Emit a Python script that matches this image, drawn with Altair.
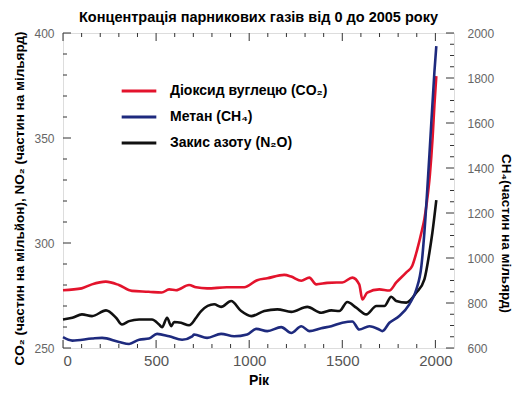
import altair as alt
import pandas as pd

# ---------------- data ----------------
CO2 = "Діоксид вуглецю (CO₂)"
CH4 = "Метан (CH₄)"
N2O = "Закис азоту (N₂O)"

co2_years = [0, 100, 155, 230, 300, 370, 460, 530, 570, 607, 677, 715, 774, 880, 973,
             1043, 1097, 1188, 1226, 1280, 1323, 1360, 1419, 1470, 1500, 1554, 1591,
             1608, 1634, 1699, 1753, 1790, 1844, 1876, 1903, 1925, 1941, 1955, 1970,
             1985, 1995, 2005]
co2_vals = [277.5, 278.4, 280.3, 281.6, 280.0, 277.2, 276.8, 276.4, 277.9, 277.5, 280.0,
            278.9, 278.4, 278.9, 278.9, 282.3, 283.2, 284.8, 284.0, 282.0, 283.5, 280.3,
            281.0, 281.2, 281.2, 283.5, 280.3, 273.1, 276.4, 277.9, 277.4, 281.2, 286.0,
            289.2, 297.1, 305.0, 311.5, 320.0, 332.0, 350.0, 366.0, 379.5]

ch4_years = [0, 50, 156, 210, 301, 355, 409, 462, 505, 570, 640, 694, 704, 774, 849, 919,
             989, 1038, 1097, 1172, 1226, 1280, 1323, 1387, 1441, 1500, 1554, 1591, 1645,
             1699, 1715, 1753, 1806, 1860, 1898, 1925, 1941, 1968, 1995, 2005]
ch4_vals = [648, 633, 642, 645, 627, 618, 637, 642, 663, 652, 637, 652, 660, 645, 663, 652,
            660, 685, 675, 693, 667, 697, 675, 688, 697, 712, 718, 682, 697, 682, 675, 712,
            742, 794, 861, 965, 1114, 1459, 1830, 1942]

n2o_years = [0, 50, 102, 156, 231, 285, 317, 355, 409, 478, 516, 532, 559, 581, 597, 634,
             677, 715, 742, 812, 849, 903, 957, 1011, 1081, 1151, 1226, 1312, 1387, 1441,
             1484, 1527, 1575, 1629, 1683, 1726, 1763, 1790, 1844, 1898, 1941, 1968, 1984,
             2005]
n2o_vals = [263.6, 264.4, 266.0, 265.2, 267.9, 264.4, 261.2, 262.8, 263.6, 263.6, 261.2,
            259.9, 264.4, 260.4, 262.4, 262.0, 260.8, 264.4, 267.6, 270.8, 269.6, 272.4,
            267.6, 265.2, 267.6, 268.4, 267.2, 269.6, 266.8, 267.9, 267.6, 271.9, 269.2,
            266.0, 270.0, 270.0, 274.4, 272.4, 271.6, 276.4, 282.7, 295.5, 305.0, 320.4]

series_order = [CO2, CH4, N2O]
series_colors = ["#e3132c", "#1e2a7e", "#111111"]

x_major = [0, 500, 1000, 1500, 2000]
x_minor = [100, 200, 300, 400, 600, 700, 800, 900, 1100, 1200, 1300, 1400,
           1600, 1700, 1800, 1900]
left_major = [250, 300, 350, 400]
left_minor = [260, 270, 280, 290, 310, 320, 330, 340, 360, 370, 380, 390]
right_major = [600, 800, 1000, 1200, 1400, 1600, 1800, 2000]
right_minor = [650, 700, 750, 850, 900, 950, 1050, 1100, 1150, 1250, 1300, 1350,
               1450, 1500, 1550, 1650, 1700, 1750, 1850, 1900, 1950]

X_DOM = [0, 2100]
L_DOM = [250, 400]
R_DOM = [600, 2000]
W, H = 391, 315
FONT = "Liberation Sans"
MAJ, MIN = 8, 4  # tick lengths in pixels

left_df = pd.DataFrame(
    {"year": co2_years + n2o_years,
     "value": co2_vals + n2o_vals,
     "series": [CO2] * len(co2_years) + [N2O] * len(n2o_years)}
)
right_df = pd.DataFrame({"year": ch4_years, "value": ch4_vals, "series": [CH4] * len(ch4_years)})

# tick tables (inward ticks on all four sides), lengths converted to data units
px_x = (X_DOM[1] - X_DOM[0]) / W
px_l = (L_DOM[1] - L_DOM[0]) / H

xt_rows = []
for t in x_major + x_minor:
    ln = MAJ if t in x_major else MIN
    xt_rows.append({"t": t, "a": L_DOM[0], "b": L_DOM[0] + ln * px_l})
    xt_rows.append({"t": t, "a": L_DOM[1], "b": L_DOM[1] - ln * px_l})
xt_df = pd.DataFrame(xt_rows)

lt_df = pd.DataFrame([{"t": t, "a": X_DOM[0], "b": X_DOM[0] + (MAJ if t in left_major else MIN) * px_x}
                      for t in left_major + left_minor])
rt_df = pd.DataFrame([{"t": t, "a": X_DOM[1], "b": X_DOM[1] - (MAJ if t in right_major else MIN) * px_x}
                      for t in right_major + right_minor])

x_scale = alt.Scale(domain=X_DOM, nice=False, zero=False)
l_scale = alt.Scale(domain=L_DOM, nice=False, zero=False)
r_scale = alt.Scale(domain=R_DOM, nice=False, zero=False)

color = alt.Color(
    "series:N",
    scale=alt.Scale(domain=series_order, range=series_colors),
    legend=alt.Legend(
        title=None, orient="none", legendX=57, legendY=39,
        symbolType="stroke", symbolStrokeWidth=3, symbolSize=1200,
        labelFont=FONT, labelFontSize=14, labelFontWeight="bold", labelColor="#000",
        labelOffset=12, rowPadding=-3,
    ),
    sort=series_order,
)

x_enc = alt.X(
    "year:Q", scale=x_scale,
    axis=alt.Axis(values=x_major, format="d", title="Рік", labelFontSize=15,
                  labelColor="#555", titleFontSize=14, titleFontWeight="bold",
                  titleColor="#000", labelPadding=5, titlePadding=5, tickSize=0,
                  domain=False, grid=False, labelFont=FONT, titleFont=FONT),
)

left_lines = alt.Chart(left_df).mark_line(strokeWidth=2.6, interpolate="monotone").encode(
    x=x_enc,
    y=alt.Y("value:Q", scale=l_scale,
            axis=alt.Axis(values=left_major, format="d", orient="left",
                          title="CO₂ (частин на мільйон), NO₂ (частин на мільярд)",
                          labelFontSize=12, labelColor="#666", titleFontSize=13.5,
                          titleFontWeight="bold", titleColor="#000", tickSize=0,
                          domain=False, grid=False, labelPadding=9, titlePadding=7,
                          labelFont=FONT, titleFont=FONT, titleY=165)),
    color=color,
    detail="series:N",
)

right_lines = alt.Chart(right_df).mark_line(strokeWidth=2.6, interpolate="monotone").encode(
    x=alt.X("year:Q", scale=x_scale),
    y=alt.Y("value:Q", scale=r_scale,
            axis=alt.Axis(values=right_major, format="d", orient="right",
                          title="CH₄(частин на мільярд)",
                          labelFontSize=12, labelColor="#666", titleFontSize=13.5,
                          titleFontWeight="bold", titleColor="#000", tickSize=0,
                          domain=False, grid=False, labelPadding=13, titlePadding=5,
                          labelFont=FONT, titleFont=FONT, titleY=200)),
    color=color,
)

tick_color = "#333"

x_ticks = alt.Chart(xt_df).mark_rule(color=tick_color, strokeWidth=1).encode(
    x=alt.X("t:Q", scale=x_scale),
    y=alt.Y("a:Q", scale=l_scale, axis=None),
    y2="b:Q",
)
l_ticks = alt.Chart(lt_df).mark_rule(color=tick_color, strokeWidth=1).encode(
    y=alt.Y("t:Q", scale=l_scale, axis=None),
    x=alt.X("a:Q", scale=x_scale),
    x2="b:Q",
)
r_ticks = alt.Chart(rt_df).mark_rule(color=tick_color, strokeWidth=1).encode(
    y=alt.Y("t:Q", scale=r_scale, axis=None),
    x=alt.X("a:Q", scale=x_scale),
    x2="b:Q",
)

chart = alt.layer(
    left_lines, right_lines, x_ticks, l_ticks, r_ticks,
).resolve_scale(y="independent", color="shared").properties(
    width=W, height=H,
    title=alt.Title("Концентрація парникових газів від 0 до 2005 року",
                    fontSize=14.5, fontWeight="bold", font=FONT, color="#000",
                    anchor="middle", offset=2),
    padding={"left": 4, "right": 2, "top": 1, "bottom": 2},
).configure_view(stroke="#333", strokeWidth=1).configure(background="white")

chart.save("out.html", embed_options={"renderer": "svg", "actions": False})
